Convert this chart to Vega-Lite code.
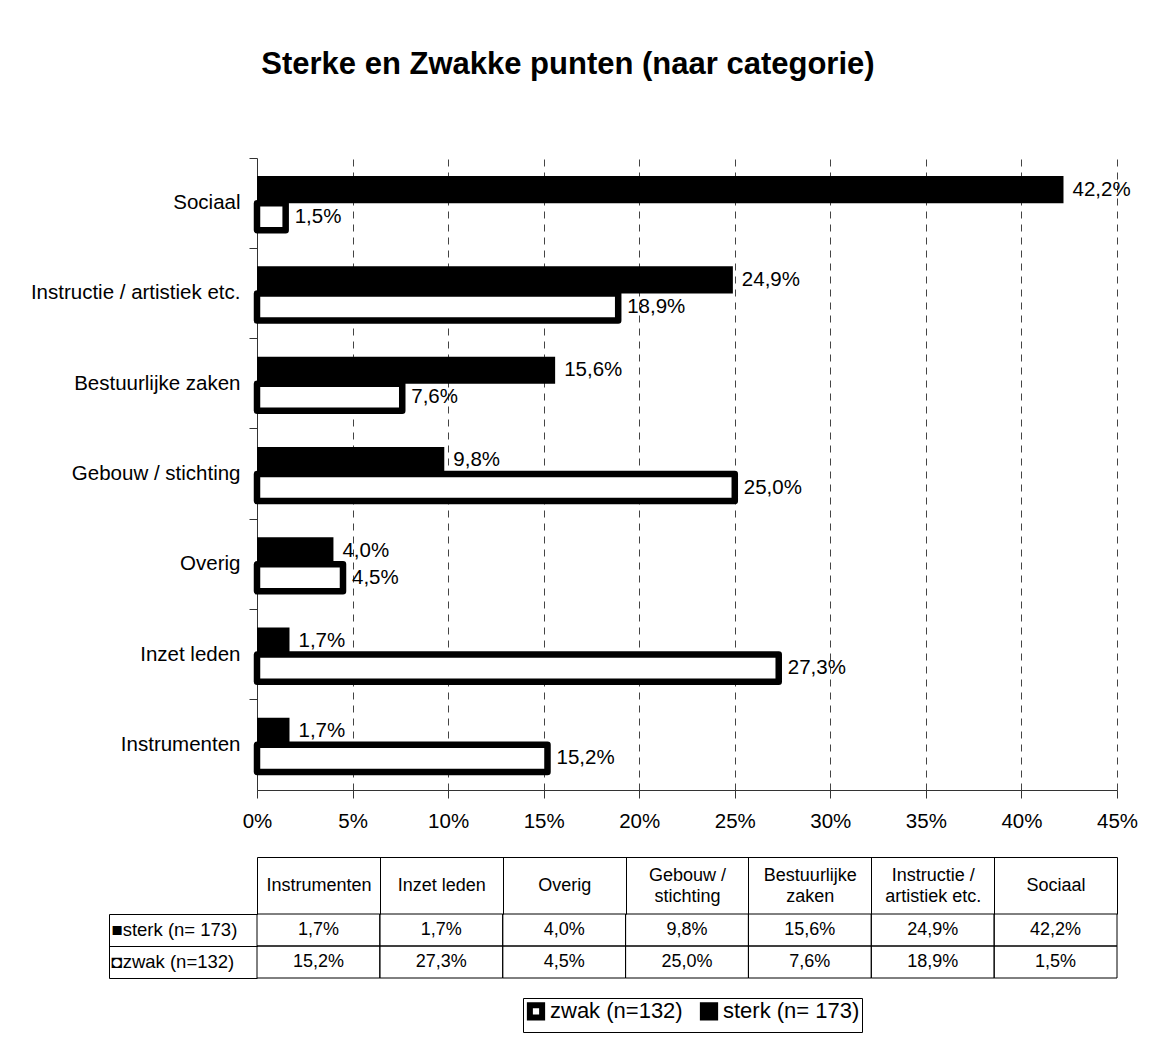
{
  "$schema": "https://vega.github.io/schema/vega-lite/v6.json",
  "background": "white",
  "padding": {"left": 30, "top": 48, "right": 10, "bottom": 0},
  "autosize": {"type": "pad"},
  "title": {"text": "Sterke en Zwakke punten (naar categorie)", "font": "Liberation Sans", "fontSize": 31, "fontWeight": "bold", "color": "black", "anchor": "middle", "frame": "bounds", "offset": 77, "dx": -16},
  "datasets": {
    "d": [
      {"cat": "Instrumenten", "series": "sterk (n= 173)", "v": 0.017},
      {"cat": "Inzet leden", "series": "sterk (n= 173)", "v": 0.017},
      {"cat": "Overig", "series": "sterk (n= 173)", "v": 0.040},
      {"cat": "Gebouw / stichting", "series": "sterk (n= 173)", "v": 0.098},
      {"cat": "Bestuurlijke zaken", "series": "sterk (n= 173)", "v": 0.156},
      {"cat": "Instructie / artistiek etc.", "series": "sterk (n= 173)", "v": 0.249},
      {"cat": "Sociaal", "series": "sterk (n= 173)", "v": 0.422},
      {"cat": "Instrumenten", "series": "zwak (n=132)", "v": 0.152},
      {"cat": "Inzet leden", "series": "zwak (n=132)", "v": 0.273},
      {"cat": "Overig", "series": "zwak (n=132)", "v": 0.045},
      {"cat": "Gebouw / stichting", "series": "zwak (n=132)", "v": 0.250},
      {"cat": "Bestuurlijke zaken", "series": "zwak (n=132)", "v": 0.076},
      {"cat": "Instructie / artistiek etc.", "series": "zwak (n=132)", "v": 0.189},
      {"cat": "Sociaal", "series": "zwak (n=132)", "v": 0.015}
    ]
  },
  "data": {"name": "d"},
  "config": {
    "locale": {"number": {"decimal": ",", "thousands": ".", "grouping": [3], "currency": ["€", ""]}},
    "font": "Liberation Sans",
    "view": {"stroke": null},
    "axis": {"labelFont": "Liberation Sans", "labelColor": "black", "domainColor": "black", "tickColor": "black", "title": null}
  },
  "bounds": "flush",
  "spacing": 124,
  "vconcat": [
    {
      "width": 860,
      "height": 632,
      "encoding": {
        "y": {
          "field": "cat", "type": "nominal",
          "sort": ["Sociaal", "Instructie / artistiek etc.", "Bestuurlijke zaken", "Gebouw / stichting", "Overig", "Inzet leden", "Instrumenten"],
          "scale": {"paddingInner": 0.4, "paddingOuter": 0.2},
          "axis": {"bandPosition": -0.3333, "tickSize": 8, "labelFontSize": 20.5, "labelPadding": 9, "labelLimit": 0, "domainColor": "#333", "tickColor": "#333"}
        },
        "yOffset": {
          "field": "series", "type": "nominal",
          "sort": ["sterk (n= 173)", "zwak (n=132)"],
          "scale": {"domain": ["sterk (n= 173)", "zwak (n=132)"], "paddingInner": 0, "paddingOuter": 0}
        },
        "x": {
          "field": "v", "type": "quantitative",
          "scale": {"domain": [0, 0.45], "nice": false},
          "axis": {"values": [0, 0.05, 0.1, 0.15, 0.2, 0.25, 0.3, 0.35, 0.4, 0.45], "format": ".0%", "labelFontSize": 20.5, "tickSize": 8, "labelPadding": 13, "grid": true, "gridColor": "#444", "gridDash": [7, 6], "gridWidth": 1, "domainColor": "#333", "tickColor": "#333", "labelFlush": false}
        }
      },
      "layer": [
        {
          "mark": {"type": "bar", "stroke": "black", "strokeJoin": "round"},
          "encoding": {
            "fill": {
              "field": "series", "type": "nominal",
              "scale": {"domain": ["zwak (n=132)", "sterk (n= 173)"], "range": ["white", "black"]},
              "legend": {"orient": "none", "legendX": 266, "legendY": 840, "direction": "horizontal", "title": null, "labelFont": "Liberation Sans", "labelFontSize": 22, "labelColor": "black", "symbolType": "square", "symbolSize": 150, "symbolStrokeColor": "black", "symbolStrokeWidth": 6, "strokeColor": "black", "fillColor": "white", "padding": 2, "columnPadding": 7, "labelOffset": 3}
            },
            "strokeWidth": {"condition": {"test": "datum.series == 'zwak (n=132)'", "value": 6.5}, "value": 0}
          }
        },
        {
          "mark": {"type": "text", "align": "left", "baseline": "middle", "dx": 9, "fontSize": 20.5, "font": "Liberation Sans", "color": "black"},
          "encoding": {"text": {"field": "v", "type": "quantitative", "format": ".1%"}}
        }
      ]
    },
    {
      "width": 860,
      "height": 64,
      "encoding": {
        "x": {
          "field": "cat", "type": "nominal",
          "sort": ["Instrumenten", "Inzet leden", "Overig", "Gebouw / stichting", "Bestuurlijke zaken", "Instructie / artistiek etc.", "Sociaal"],
          "scale": {"paddingInner": 0, "paddingOuter": 0},
          "axis": {"orient": "top", "offset": 57, "tickBand": "extent", "tickSize": -57,
            "labelPadding": {"condition": {"test": "datum.value == 'Gebouw / stichting' || datum.value == 'Bestuurlijke zaken' || datum.value == 'Instructie / artistiek etc.'", "value": 39}, "value": 28.5},
            "labelBaseline": "middle", "labelAngle": 0, "labelFontSize": 18, "labelLineHeight": 21, "labelOverlap": false, "labelLimit": 0, "grid": false,
            "labelExpr": "datum.value == 'Gebouw / stichting' ? ['Gebouw /', 'stichting'] : datum.value == 'Bestuurlijke zaken' ? ['Bestuurlijke', 'zaken'] : datum.value == 'Instructie / artistiek etc.' ? ['Instructie /', 'artistiek etc.'] : datum.label"}
        }
      },
      "layer": [
        {
          "mark": {"type": "rect", "fill": "transparent", "stroke": "black", "strokeWidth": 1},
          "encoding": {
            "y": {
              "field": "series", "type": "nominal",
              "sort": ["sterk (n= 173)", "zwak (n=132)"],
              "scale": {"paddingInner": 0, "paddingOuter": 0},
              "axis": {"orient": "left", "bandPosition": 0.00001, "tickSize": 148, "domain": false, "labelAlign": "left", "labelPadding": -2, "labelBaseline": "middle", "labelFontSize": 18.5, "labelLimit": 0, "grid": false,
                "labelExpr": "datum.value == 'sterk (n= 173)' ? '■sterk (n= 173)' : '◘zwak (n=132)'"}
            }
          }
        },
        {
          "mark": {"type": "text", "fontSize": 18, "font": "Liberation Sans", "color": "black"},
          "encoding": {
            "y": {
              "field": "series", "type": "nominal",
              "sort": ["sterk (n= 173)", "zwak (n=132)"],
              "scale": {"paddingInner": 0, "paddingOuter": 0},
              "axis": {"orient": "right", "offset": -1008, "tickOffset": 16, "tickSize": 148, "domain": true, "labels": false, "grid": false}
            },
            "text": {"field": "v", "type": "quantitative", "format": ".1%"}
          }
        }
      ],
      "resolve": {"scale": {"y": "independent"}, "axis": {"y": "independent"}}
    }
  ]
}
